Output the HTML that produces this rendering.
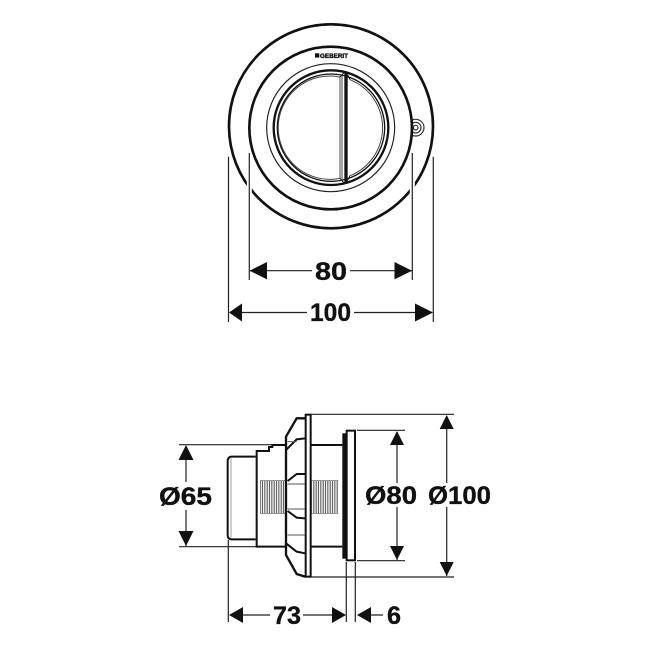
<!DOCTYPE html>
<html>
<head>
<meta charset="utf-8">
<style>
html,body{margin:0;padding:0;background:#fff;width:650px;height:650px;overflow:hidden}
svg{display:block}
text{font-family:"Liberation Sans",sans-serif;font-weight:700;fill:#111;stroke:#111;stroke-width:.35}
</style>
</head>
<body>
<svg width="650" height="650" viewBox="0 0 650 650" xmlns="http://www.w3.org/2000/svg">
<defs>
<pattern id="th" width="7" height="100" patternUnits="userSpaceOnUse">
<rect x="1" y="0" width="3" height="100" fill="#444"/>
</pattern>
</defs>
<rect width="650" height="650" fill="#fff"/>

<!-- top view -->
<g transform="translate(215,15) scale(.33333)" fill="none" stroke="#111">
<circle cx="348" cy="334" r="306" stroke-width="8"/>
<g stroke-width="3.5" stroke="#333">
<circle cx="602" cy="338" r="25"/><circle cx="602" cy="338" r="16"/><circle cx="602" cy="338" r="7"/>
</g>
<circle cx="347" cy="339" r="244" stroke-width="8" fill="#fff"/>
<circle cx="347" cy="338" r="192" stroke-width="3.5" stroke="#222"/>
<circle cx="348" cy="338" r="172" stroke-width="7"/>
<circle cx="348" cy="338" r="161" stroke-width="4"/>
<path d="M375 186A155 155 0 1 0 375 490" stroke-width="3" stroke="#444"/>
<path d="M405 194A155 155 0 0 1 405 482" stroke-width="3" stroke="#444"/>
<path d="M375 186V490M381 180V497" stroke="#666" stroke-width="3.5"/>
<path d="M375 186L388 172M375 490L388 505M398 180L405 194M398 496L405 482" stroke-width="3"/>
<rect x="388" y="170" width="10" height="335" fill="#111" stroke="none"/>
</g>
<rect x="315" y="53.3" width="4.3" height="4.3" fill="#111"/>
<text x="320" y="57.8" font-size="6.2" textLength="28" lengthAdjust="spacingAndGlyphs">GEBERIT</text>

<!-- top view extension lines -->
<g stroke="#fff" stroke-width="5" fill="none">
<path d="M249.3 175V216M412.3 175V216"/>
</g>
<g stroke="#222" stroke-width="1.2" fill="none">
<path d="M228.5 156.7V322M433.3 156.7V322M249.3 153V280M412.3 153V280"/>
<path d="M250 270.7H312M350 270.7H412"/>
<path d="M230 312.5H307M354 312.5H432"/>
</g>
<g fill="#111">
<path d="M249.5 270.7L267 262V279.4Z"/>
<path d="M412 270.7L394.5 262V279.4Z"/>
<path d="M229 312.5L242 303.5V321.5Z"/>
<path d="M433 312.5L415 303.5V321.5Z"/>
</g>
<text x="315" y="280" font-size="25" textLength="32" lengthAdjust="spacingAndGlyphs">80</text>
<text x="310" y="320.8" font-size="25" textLength="41" lengthAdjust="spacingAndGlyphs">100</text>

<!-- side view -->
<g transform="translate(215,405) scale(.33333)" fill="none" stroke="#111">
<rect x="135" y="227" width="78" height="98" fill="url(#th)" stroke="none"/>
<rect x="290" y="227" width="80" height="98" fill="url(#th)" stroke="none"/>
<path d="M135 227H213M135 325H213M290 227H370M290 325H370" stroke="#555" stroke-width="2"/>
<path d="M122 155H50Q38 155 38 170V390Q38 403 50 403H122" stroke-width="6"/>
<path d="M48 160V398" stroke="#888" stroke-width="2.5"/>
<path d="M213 120H172V126H162V138H125V425H213" stroke-width="6"/>
<path d="M288 120H382M288 425H382" stroke-width="6"/>
<path d="M270 40H245L213 95V450L245 507L270 515" stroke-width="7" fill="#fff"/>
<rect x="272" y="29" width="15" height="486" stroke-width="6" fill="#fff"/>
<g stroke-width="6">
<path d="M213 135L245 103L270 100"/>
<path d="M218 228L245 207H270"/>
<path d="M218 318L245 338L270 340"/>
<path d="M213 415L245 440L270 445"/>
</g>
<g stroke="#555" stroke-width="3">
<path d="M218 237H270M218 312H270M218 390H270M218 110H245"/>
</g>
<rect x="382" y="85" width="13" height="376" fill="#111" stroke="none"/>
<rect x="395" y="77" width="25" height="389" stroke-width="6" fill="#fff"/>
</g>

<!-- side view dimensions -->
<g stroke="#222" stroke-width="1.2" fill="none">
<path d="M179 444.7H272M179 546.7H256"/>
<path d="M186 446V482M186 510V546"/>
<path d="M311 414.3H454M311 577H454"/>
<path d="M357 430.3H405M357 560.7H405"/>
<path d="M397 432V483M397 507V560"/>
<path d="M446.7 416V483M446.7 507V576"/>
<path d="M228.3 540V622M346.3 562V622M355.3 562V622"/>
<path d="M230 615H270M303 615H345"/>
<path d="M358 615H383"/>
</g>
<g fill="#111">
<path d="M186 445L178.5 460H193.5Z"/>
<path d="M186 546L178.5 531H193.5Z"/>
<path d="M397 431L390 445H404Z"/>
<path d="M397 560L390 546H404Z"/>
<path d="M446.7 415L439.7 429H453.7Z"/>
<path d="M446.7 576L439.7 562H453.7Z"/>
<path d="M229 615L243 607V623Z"/>
<path d="M346 615L332 607V623Z"/>
<path d="M357 615L371 607V623Z"/>
</g>
<text x="159" y="505" font-size="25" textLength="53" lengthAdjust="spacingAndGlyphs">Ø65</text>
<text x="365" y="504" font-size="25" textLength="52" lengthAdjust="spacingAndGlyphs">Ø80</text>
<text x="428" y="504" font-size="25" textLength="63" lengthAdjust="spacingAndGlyphs">Ø100</text>
<text x="273" y="624" font-size="25" textLength="28" lengthAdjust="spacingAndGlyphs">73</text>
<text x="387" y="624" font-size="25" textLength="14" lengthAdjust="spacingAndGlyphs">6</text>
</svg>
</body>
</html>
